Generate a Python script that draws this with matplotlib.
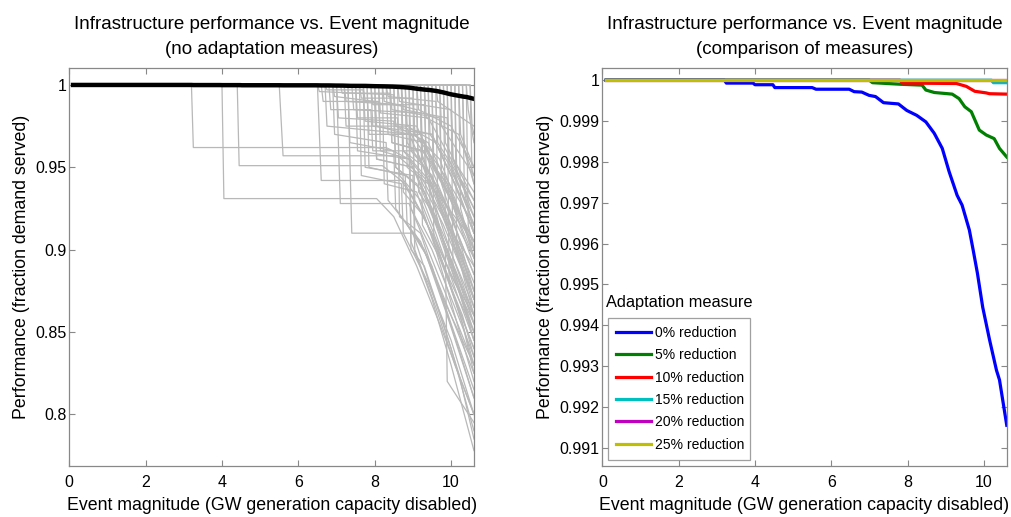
import matplotlib
matplotlib.use("Agg")
import matplotlib.pyplot as plt

plt.rcParams['font.family'] = ['Liberation Sans', 'DejaVu Sans']

# ---- left panel: individual runs (vertex lists) ----
runs_gray = [
    [(0.1, 1.0), (3.2, 1.0), (3.25, 0.962), (8.3, 0.962), (8.9, 0.955), (9.6, 0.935), (10.6, 0.905)],
    [(0.1, 1.0), (4.0, 1.0), (4.05, 0.931), (8.05, 0.931), (8.5, 0.92), (9.1, 0.89), (9.7, 0.855), (10.6, 0.80)],
    [(0.1, 1.0), (4.4, 1.0), (4.45, 0.951), (8.2, 0.951), (8.8, 0.94), (9.5, 0.91), (10.1, 0.88), (10.6, 0.86)],
    [(0.1, 1.0), (5.5, 1.0), (5.6, 0.957), (8.6, 0.957), (9.2, 0.945), (9.9, 0.915), (10.6, 0.89)],
    [(0.1, 1.0), (6.5, 1.0), (6.6, 0.942), (8.7, 0.942), (9.3, 0.92), (9.9, 0.885), (10.6, 0.85)],
    [(0.1, 1.0), (6.5, 1.0), (6.55, 0.996), (8.5, 0.994), (8.55, 0.975), (9.4, 0.965), (10.0, 0.935), (10.6, 0.90)],
    [(0.1, 1.0), (6.6, 1.0), (6.65, 0.99), (8.1, 0.99), (8.15, 0.97), (9.2, 0.97), (9.8, 0.94), (10.6, 0.90)],
    [(0.1, 1.0), (6.7, 1.0), (6.75, 0.997), (7.7, 0.997), (7.75, 0.978), (9.1, 0.975), (9.7, 0.945), (10.6, 0.905)],
    [(0.1, 1.0), (6.7, 1.0), (6.75, 0.975), (9.0, 0.97), (9.05, 0.93), (9.6, 0.905), (10.1, 0.87), (10.6, 0.84)],
    [(0.1, 1.0), (6.8, 1.0), (6.85, 0.985), (7.9, 0.985), (7.95, 0.96), (9.1, 0.96), (9.7, 0.925), (10.6, 0.87)],
    [(0.1, 1.0), (6.9, 1.0), (6.95, 0.97), (8.3, 0.965), (8.35, 0.93), (9.2, 0.905), (9.8, 0.87), (10.6, 0.83)],
    [(0.1, 1.0), (6.9, 1.0), (6.95, 0.993), (8.0, 0.99), (8.05, 0.955), (9.0, 0.95), (9.6, 0.92), (10.6, 0.865)],
    [(0.1, 1.0), (7.0, 1.0), (7.1, 0.928), (8.9, 0.928), (9.4, 0.90), (10.0, 0.865), (10.6, 0.83)],
    [(0.1, 1.0), (7.0, 1.0), (7.05, 0.98), (8.5, 0.978), (8.55, 0.95), (9.3, 0.935), (9.9, 0.90), (10.6, 0.86)],
    [(0.1, 1.0), (7.1, 1.0), (7.15, 0.995), (8.4, 0.995), (8.45, 0.965), (9.3, 0.96), (10.0, 0.92), (10.6, 0.885)],
    [(0.1, 1.0), (7.2, 1.0), (7.25, 0.975), (8.8, 0.975), (9.4, 0.955), (10.0, 0.93), (10.6, 0.905)],
    [(0.1, 1.0), (7.2, 1.0), (7.25, 0.99), (8.7, 0.988), (8.75, 0.96), (9.5, 0.94), (10.1, 0.905), (10.6, 0.875)],
    [(0.1, 1.0), (7.3, 1.0), (7.4, 0.91), (9.0, 0.91), (9.5, 0.875), (10.0, 0.84), (10.6, 0.79)],
    [(0.1, 1.0), (7.3, 1.0), (7.35, 0.965), (8.5, 0.96), (8.55, 0.925), (9.3, 0.90), (9.9, 0.86), (10.6, 0.81)],
    [(0.1, 1.0), (7.4, 1.0), (7.45, 0.985), (9.2, 0.983), (9.25, 0.955), (9.9, 0.925), (10.6, 0.885)],
    [(0.1, 1.0), (7.5, 1.0), (7.55, 0.98), (8.6, 0.98), (8.65, 0.945), (9.2, 0.93), (9.8, 0.895), (10.6, 0.855)],
    [(0.1, 1.0), (7.5, 1.0), (7.55, 0.96), (8.9, 0.955), (9.5, 0.925), (10.0, 0.89), (10.6, 0.845)],
    [(0.1, 1.0), (7.6, 1.0), (7.65, 0.992), (9.0, 0.992), (9.05, 0.97), (9.7, 0.95), (10.6, 0.915)],
    [(0.1, 1.0), (7.6, 1.0), (7.65, 0.945), (8.7, 0.94), (8.75, 0.91), (9.4, 0.88), (10.0, 0.845), (10.6, 0.80)],
    [(0.1, 1.0), (7.7, 1.0), (7.75, 0.95), (9.0, 0.945), (9.05, 0.90), (9.6, 0.865), (10.1, 0.83), (10.6, 0.80)],
    [(0.1, 1.0), (7.7, 1.0), (7.75, 0.99), (8.8, 0.987), (8.85, 0.965), (9.6, 0.94), (10.6, 0.895)],
    [(0.1, 1.0), (7.8, 1.0), (7.85, 0.97), (8.9, 0.97), (9.5, 0.94), (10.1, 0.90), (10.6, 0.87)],
    [(0.1, 1.0), (7.8, 1.0), (7.85, 0.95), (8.8, 0.945), (8.85, 0.915), (9.4, 0.895), (10.0, 0.86), (10.6, 0.825)],
    [(0.1, 1.0), (7.9, 1.0), (7.95, 0.988), (9.3, 0.988), (9.35, 0.96), (9.9, 0.935), (10.6, 0.895)],
    [(0.1, 1.0), (7.9, 1.0), (7.95, 0.975), (9.5, 0.97), (10.0, 0.945), (10.6, 0.91)],
    [(0.1, 1.0), (8.0, 1.0), (8.05, 0.955), (9.0, 0.95), (9.6, 0.915), (10.2, 0.875), (10.6, 0.85)],
    [(0.1, 1.0), (8.0, 1.0), (8.05, 0.975), (8.9, 0.97), (8.95, 0.905), (9.5, 0.87), (10.0, 0.83), (10.6, 0.778)],
    [(0.1, 1.0), (8.1, 1.0), (8.15, 0.983), (9.4, 0.98), (10.0, 0.955), (10.6, 0.925)],
    [(0.1, 1.0), (8.1, 1.0), (8.15, 0.96), (8.9, 0.955), (8.95, 0.925), (9.5, 0.90), (10.1, 0.865), (10.6, 0.835)],
    [(0.1, 1.0), (8.2, 1.0), (8.25, 0.94), (9.1, 0.935), (9.6, 0.90), (10.1, 0.86), (10.6, 0.82)],
    [(0.1, 1.0), (8.2, 1.0), (8.25, 0.99), (9.1, 0.985), (9.15, 0.945), (9.8, 0.915), (10.6, 0.87)],
    [(0.1, 1.0), (8.3, 1.0), (8.35, 0.993), (9.6, 0.99), (9.65, 0.965), (10.6, 0.93)],
    [(0.1, 1.0), (8.3, 1.0), (8.35, 0.97), (9.3, 0.965), (9.35, 0.93), (9.9, 0.90), (10.6, 0.855)],
    [(0.1, 1.0), (8.4, 1.0), (8.45, 0.965), (9.2, 0.96), (9.8, 0.925), (10.6, 0.88)],
    [(0.1, 1.0), (8.4, 1.0), (8.45, 0.985), (9.7, 0.98), (9.75, 0.945), (10.6, 0.905)],
    [(0.1, 1.0), (8.5, 1.0), (8.55, 0.975), (9.5, 0.97), (10.1, 0.94), (10.6, 0.91)],
    [(0.1, 1.0), (8.5, 1.0), (8.55, 0.95), (9.1, 0.94), (9.6, 0.91), (10.2, 0.87), (10.6, 0.845)],
    [(0.1, 1.0), (8.6, 1.0), (8.65, 0.92), (9.2, 0.91), (9.7, 0.875), (10.2, 0.84), (10.6, 0.81)],
    [(0.1, 1.0), (8.6, 1.0), (8.65, 0.99), (10.0, 0.985), (10.05, 0.955), (10.6, 0.935)],
    [(0.1, 1.0), (8.7, 1.0), (8.75, 0.985), (9.9, 0.98), (9.95, 0.95), (10.6, 0.92)],
    [(0.1, 1.0), (8.7, 1.0), (8.75, 0.935), (9.3, 0.92), (9.8, 0.89), (10.3, 0.855), (10.6, 0.83)],
    [(0.1, 1.0), (8.7, 1.0), (8.75, 0.96), (9.3, 0.95), (9.85, 0.90), (9.9, 0.82), (10.6, 0.795)],
    [(0.1, 1.0), (8.8, 1.0), (8.85, 0.95), (9.4, 0.94), (9.9, 0.905), (10.6, 0.86)],
    [(0.1, 1.0), (8.8, 1.0), (8.85, 0.975), (9.6, 0.965), (10.2, 0.935), (10.6, 0.91)],
    [(0.1, 1.0), (8.9, 1.0), (8.95, 0.90), (9.3, 0.89), (9.8, 0.855), (10.2, 0.825), (10.6, 0.785)],
    [(0.1, 1.0), (8.9, 1.0), (8.95, 0.96), (9.5, 0.945), (10.0, 0.915), (10.6, 0.875)],
    [(0.1, 1.0), (9.0, 1.0), (9.05, 0.97), (9.7, 0.955), (10.2, 0.925), (10.6, 0.895)],
    [(0.1, 1.0), (9.0, 1.0), (9.05, 0.91), (9.5, 0.89), (10.0, 0.855), (10.6, 0.815)],
    [(0.1, 1.0), (9.1, 1.0), (9.15, 0.935), (9.6, 0.92), (10.1, 0.885), (10.6, 0.85)],
    [(0.1, 1.0), (9.1, 1.0), (9.15, 0.985), (10.0, 0.975), (10.6, 0.95)],
    [(0.1, 1.0), (9.2, 1.0), (9.25, 0.96), (9.9, 0.94), (10.6, 0.90)],
    [(0.1, 1.0), (9.2, 1.0), (9.25, 0.915), (9.7, 0.895), (10.1, 0.87), (10.6, 0.84)],
    [(0.1, 1.0), (9.3, 1.0), (9.35, 0.98), (10.2, 0.97), (10.6, 0.945)],
    [(0.1, 1.0), (9.3, 1.0), (9.35, 0.945), (9.8, 0.925), (10.3, 0.895), (10.6, 0.87)],
    [(0.1, 1.0), (9.4, 1.0), (9.45, 0.925), (9.9, 0.90), (10.3, 0.87), (10.6, 0.845)],
    [(0.1, 1.0), (9.4, 1.0), (9.45, 0.97), (10.0, 0.95), (10.6, 0.915)],
    [(0.1, 1.0), (9.5, 1.0), (9.55, 0.95), (10.0, 0.93), (10.6, 0.89)],
    [(0.1, 1.0), (9.5, 1.0), (9.55, 0.905), (9.9, 0.885), (10.3, 0.855), (10.6, 0.825)],
    [(0.1, 1.0), (9.6, 1.0), (9.65, 0.99), (10.6, 0.975)],
    [(0.1, 1.0), (9.6, 1.0), (9.65, 0.93), (10.1, 0.905), (10.6, 0.87)],
    [(0.1, 1.0), (9.7, 1.0), (9.75, 0.94), (10.1, 0.915), (10.6, 0.875)],
    [(0.1, 1.0), (9.7, 1.0), (9.75, 0.975), (10.6, 0.945)],
    [(0.1, 1.0), (9.8, 1.0), (9.85, 0.965), (10.6, 0.93)],
    [(0.1, 1.0), (9.8, 1.0), (9.85, 0.92), (10.2, 0.895), (10.6, 0.86)],
    [(0.1, 1.0), (9.9, 1.0), (9.95, 0.88), (10.3, 0.86), (10.6, 0.835)],
    [(0.1, 1.0), (9.9, 1.0), (9.95, 0.955), (10.6, 0.915)],
    [(0.1, 1.0), (10.0, 1.0), (10.05, 0.955), (10.6, 0.92)],
    [(0.1, 1.0), (10.0, 1.0), (10.05, 0.89), (10.4, 0.87), (10.6, 0.855)],
    [(0.1, 1.0), (10.1, 1.0), (10.15, 0.90), (10.6, 0.865)],
    [(0.1, 1.0), (10.1, 1.0), (10.15, 0.945), (10.6, 0.925)],
    [(0.1, 1.0), (10.2, 1.0), (10.25, 0.97), (10.6, 0.95)],
    [(0.1, 1.0), (10.2, 1.0), (10.25, 0.925), (10.6, 0.895)],
    [(0.1, 1.0), (10.3, 1.0), (10.35, 0.935), (10.6, 0.91)],
    [(0.1, 1.0), (10.3, 1.0), (10.35, 0.96), (10.6, 0.94)],
    [(0.1, 1.0), (10.4, 1.0), (10.45, 0.985), (10.6, 0.965)],
    [(0.1, 1.0), (10.4, 1.0), (10.45, 0.915), (10.6, 0.90)],
    [(0.1, 1.0), (10.5, 1.0), (10.55, 0.945), (10.6, 0.94)],
    [(0.1, 1.0), (10.5, 1.0), (10.55, 0.975), (10.6, 0.97)],
]

# ---- right panel: adaptation measures ----
x_0 = [0.1, 3.2, 3.25, 3.95, 4.0, 4.47, 4.52, 5.5, 5.6, 6.47, 6.6, 6.8, 6.99, 7.16, 7.37,
       7.76, 7.98, 8.24, 8.48, 8.7, 8.91, 9.09, 9.3, 9.43, 9.62, 9.72, 9.83, 9.97, 10.15,
       10.33, 10.41, 10.6]
y_0 = [1.0, 1.0, 0.99993, 0.99993, 0.99989, 0.99989, 0.99982, 0.99982, 0.99978, 0.99978,
       0.99972, 0.99971, 0.99963, 0.99960, 0.99945, 0.99942, 0.99926, 0.99914, 0.99898,
       0.99870, 0.99833, 0.99776, 0.99718, 0.99694, 0.99633, 0.99584, 0.99528, 0.99444,
       0.99364, 0.99290, 0.99266, 0.99155]
x_5 = [0.1, 7.0, 7.08, 7.85, 8.38, 8.48, 8.7, 9.17, 9.35, 9.5, 9.67, 9.88, 10.06, 10.27, 10.41, 10.6]
y_5 = [1.0, 1.0, 0.99994, 0.9999, 0.99988, 0.99976, 0.9997, 0.99966, 0.99955, 0.99935,
       0.99923, 0.99878, 0.99866, 0.99857, 0.99833, 0.99812]
x_10 = [0.1, 7.8, 7.87, 9.28, 9.54, 9.76, 10.06, 10.15, 10.6]
y_10 = [1.0, 1.0, 0.99993, 0.99992, 0.99985, 0.99973, 0.99969, 0.99967, 0.99966]
x_15 = [0.1, 10.2, 10.25, 10.6]
y_15 = [1.0, 1.0, 0.99994, 0.99994]
x_20 = [0.1, 10.6]
y_20 = [1.0, 1.0]
x_25 = [0.1, 10.6]
y_25 = [1.0, 1.0]

labels = ["0% reduction", "5% reduction", "10% reduction",
          "15% reduction", "20% reduction", "25% reduction"]
colors = [(0, 0, 1), (0, 0.5, 0), (1, 0, 0), (0, 0.75, 0.75), (0.75, 0, 0.75), (0.75, 0.75, 0)]

frame_col = '#888888'
title_fs = 13.5
label_fs = 12.8
tick_fs = 11.5

fig = plt.figure(figsize=(10.11, 5.17), dpi=100)
ax1 = fig.add_axes([0.0685, 0.0992, 0.4003, 0.7693])
ax2 = fig.add_axes([0.5958, 0.0992, 0.4000, 0.7693])


def style(ax):
    for s in ax.spines.values():
        s.set_color(frame_col)
        s.set_linewidth(0.9)
    ax.tick_params(direction='in', top=True, right=True, length=4, width=0.8,
                   color=frame_col, labelsize=tick_fs)
    ax.tick_params(axis='x', pad=6.5)
    ax.tick_params(axis='y', pad=2)
    ax.set_xlim(0, 10.6)
    ax.set_xticks([0, 2, 4, 6, 8, 10])
    ax.set_xlabel("Event magnitude (GW generation capacity disabled)", fontsize=label_fs, labelpad=5)
    ax.set_ylabel("Performance (fraction demand served)", fontsize=label_fs, labelpad=4)


for run in runs_gray:
    xs = [p[0] for p in run]
    ys = [p[1] for p in run]
    ax1.plot(xs, ys, color=(0.72, 0.72, 0.72), linewidth=0.9)
ax1.plot(x_0, y_0, color='black', linewidth=3.2)
style(ax1)
ax1.set_ylim(0.7688, 1.0103)
ax1.set_yticks([0.8, 0.85, 0.9, 0.95, 1.0])
ax1.set_yticklabels(["0.8", "0.85", "0.9", "0.95", "1"])
ax1.set_title("Infrastructure performance vs. Event magnitude\n(no adaptation measures)",
              fontsize=title_fs, pad=10, linespacing=1.6)

series = [(x_0, y_0), (x_5, y_5), (x_10, y_10), (x_15, y_15), (x_20, y_20), (x_25, y_25)]
for (xs, ys), c, lab in zip(series, colors, labels):
    ax2.plot(xs, ys, color=c, linewidth=2.3, label=lab)
style(ax2)
ax2.set_ylim(0.99056, 1.0003)
yt = [0.991, 0.992, 0.993, 0.994, 0.995, 0.996, 0.997, 0.998, 0.999, 1.0]
ax2.set_yticks(yt)
ax2.set_yticklabels(["%.3f" % v for v in yt[:-1]] + ["1"])
ax2.set_title("Infrastructure performance vs. Event magnitude\n(comparison of measures)",
              fontsize=title_fs, pad=10, linespacing=1.6)

leg = ax2.legend(loc='lower left', bbox_to_anchor=(0.0134, 0.0143, 0.352, 0.348),
                 mode='expand', borderaxespad=0, fontsize=10, fancybox=False,
                 handlelength=2.5, handletextpad=0.3, labelspacing=0.6,
                 borderpad=0.6)
leg.get_frame().set_edgecolor(frame_col)
leg.get_frame().set_linewidth(0.9)
ax2.text(0.008, 0.41, "Adaptation measure", transform=ax2.transAxes,
         fontsize=11.8, va='center', ha='left')

fig.savefig("out.png", dpi=100)
